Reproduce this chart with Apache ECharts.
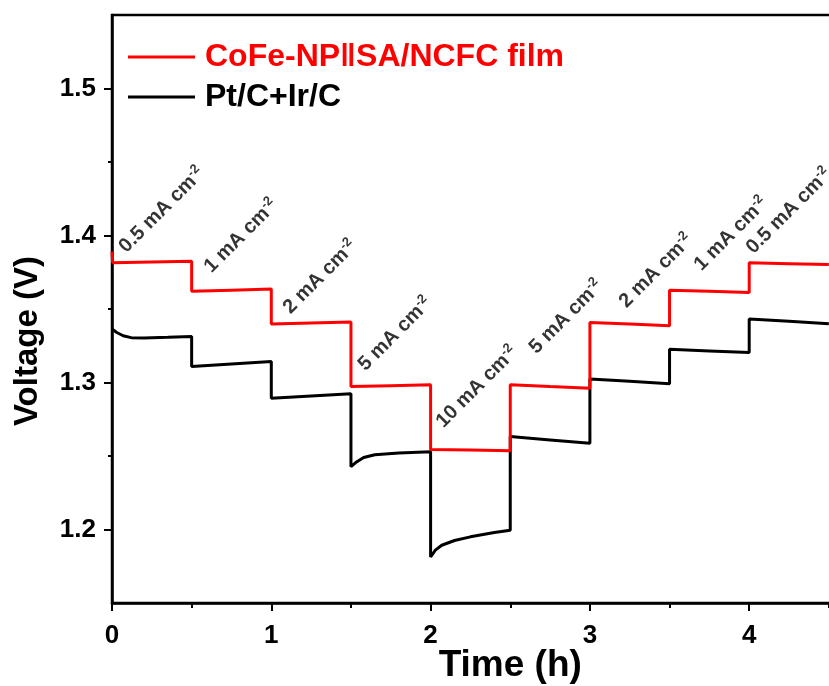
<!DOCTYPE html>
<html>
<head>
<meta charset="utf-8">
<script src="https://cdn.jsdelivr.net/npm/echarts@6/dist/echarts.min.js"></script>
<style>
  html, body { margin: 0; padding: 0; background: #ffffff; }
  #chart { width: 829px; height: 686px; }
</style>
</head>
<body>
<div id="chart"></div>
<script>
// Series names
const seriesNames = ['CoFe-NP\u2016SA/NCFC film', 'Pt/C+Ir/C'];

// CoFe-NP||SA/NCFC film: voltage (V) vs time (h), stepped current profile
const cofeTime = [0, 0.004, 0.25, 0.5, 0.5, 0.75, 1.0, 1.0, 1.25, 1.5, 1.5, 1.75, 2.0,
                  2.0, 2.25, 2.5, 2.5, 2.75, 3.0, 3.0, 3.25, 3.5, 3.5, 3.75, 4.0, 4.0, 4.25, 4.5];
const cofeVolt = [1.389, 1.3815, 1.3820, 1.3825, 1.3620, 1.3628, 1.3636, 1.3398, 1.3405, 1.3411,
                  1.2972, 1.2978, 1.2984, 1.2545, 1.2540, 1.2535, 1.2984, 1.2972, 1.2961,
                  1.3409, 1.3398, 1.3386, 1.3627, 1.3620, 1.3613, 1.3814, 1.3808, 1.3802];

// Pt/C+Ir/C reference
const ptTime = [0, 0.03, 0.07, 0.12, 0.2, 0.35, 0.5, 0.5, 0.75, 1.0, 1.0, 1.25, 1.5,
                1.5, 1.53, 1.58, 1.65, 1.8, 2.0, 2.0, 2.03, 2.07, 2.15, 2.25, 2.4, 2.5,
                2.5, 2.75, 3.0, 3.0, 3.25, 3.5, 3.5, 3.75, 4.0, 4.0, 4.25, 4.5];
const ptVolt = [1.3364, 1.3340, 1.3318, 1.3305, 1.3302, 1.3307, 1.3313, 1.3109, 1.3126, 1.3143,
                1.2893, 1.2908, 1.2923, 1.2427, 1.2455, 1.2490, 1.2508, 1.2520, 1.2529,
                1.1813, 1.1860, 1.1893, 1.1925, 1.1950, 1.1980, 1.1995, 1.2632, 1.2609, 1.2586,
                1.3024, 1.3008, 1.2992, 1.3226, 1.3215, 1.3204, 1.3432, 1.3416, 1.3400];

// Current density annotations (mA cm-2) and where they sit
const currentLabels = ['0.5', '1', '2', '5', '10', '5', '2', '1', '0.5'];
const labelTime = [0.119, 0.653, 1.149, 1.620, 2.109, 2.693, 3.258, 3.729, 4.055];
const labelVolt = [1.3847, 1.3710, 1.3432, 1.3044, 1.2656, 1.3160, 1.3473, 1.3724, 1.3840];

// Axis ticks
const xTicks = [0, 1, 2, 3, 4, 5];
const yMajorTicks = [1.2, 1.3, 1.4, 1.5];
const yMinorTicks = [1.25, 1.35, 1.45];

const FONT = '"Liberation Sans", Arial, Helvetica, sans-serif';

const zip = (xs, ys) => xs.map((x, i) => [x, ys[i]]);

const chart = echarts.init(document.getElementById('chart'), null, { renderer: 'canvas' });

chart.setOption({
  animation: false,
  backgroundColor: '#ffffff',
  grid: {
    left: 112, top: 15, width: 796.5, height: 588,
    outerBoundsMode: 'none', containLabel: false,
    show: true, borderColor: '#000000', borderWidth: 2.5, backgroundColor: 'transparent'
  },
  legend: {
    orient: 'vertical',
    left: 123, top: 36,
    icon: 'rect',
    itemWidth: 67, itemHeight: 3,
    itemGap: 8,
    textStyle: { fontFamily: FONT, fontWeight: 'bold', fontSize: 32, padding: [0, 0, 0, 5] },
    data: [
      { name: seriesNames[0], textStyle: { color: '#ff0000' } },
      { name: seriesNames[1], textStyle: { color: '#000000' } }
    ]
  },
  xAxis: {
    type: 'value',
    min: xTicks[0], max: xTicks[xTicks.length - 1], interval: 1,
    name: 'Time (h)', nameLocation: 'middle', nameGap: 44, nameMoveOverlap: false,
    nameTextStyle: { fontFamily: FONT, fontWeight: 'bold', fontSize: 37, color: '#000' },
    axisLine: { onZero: false, lineStyle: { color: '#000', width: 2.5 } },
    axisTick: { inside: false, length: 8, lineStyle: { color: '#000', width: 2 } },
    minorTick: { show: true, splitNumber: 2, length: 5, lineStyle: { color: '#000', width: 2 } },
    axisLabel: { fontFamily: FONT, fontWeight: 'bold', fontSize: 26, color: '#000', margin: 20 },
    splitLine: { show: false }
  },
  yAxis: [
    {
      type: 'value',
      min: 1.15, max: 1.55,
      name: 'Voltage (V)', nameLocation: 'middle', nameGap: 68,
      nameTextStyle: { fontFamily: FONT, fontWeight: 'bold', fontSize: 33, color: '#000', padding: [0, 64, 0, 0] },
      axisLine: { onZero: false, lineStyle: { color: '#000', width: 2.5 } },
      axisTick: { inside: false, length: 8, customValues: yMajorTicks, lineStyle: { color: '#000', width: 2 } },
      axisLabel: {
        customValues: yMajorTicks,
        formatter: v => v.toFixed(1),
        fontFamily: FONT, fontWeight: 'bold', fontSize: 26, color: '#000', margin: 16
      },
      splitLine: { show: false }
    },
    {
      type: 'value',
      position: 'left',
      min: 1.15, max: 1.55,
      axisLine: { show: false },
      axisTick: { inside: false, length: 4, customValues: yMinorTicks, lineStyle: { color: '#000', width: 2 } },
      axisLabel: { show: false },
      splitLine: { show: false }
    }
  ],
  series: [
    {
      name: seriesNames[0], type: 'line', data: zip(cofeTime, cofeVolt),
      showSymbol: false, symbol: 'none', color: '#ff0000',
      lineStyle: { color: '#ff0000', width: 3 }, z: 3
    },
    {
      name: seriesNames[1], type: 'line', data: zip(ptTime, ptVolt),
      showSymbol: false, symbol: 'none', color: '#000000',
      lineStyle: { color: '#000000', width: 3 }, z: 2
    },
    {
      name: 'current density', type: 'scatter',
      data: labelTime.map((t, i) => ({ value: [t, labelVolt[i]], text: currentLabels[i] })),
      symbolSize: 0, silent: true, z: 4,
      label: {
        show: true, position: [0, 0], align: 'left', verticalAlign: 'bottom', rotate: 45,
        formatter: p => '{a|' + p.data.text + ' mA cm}{s|-2}',
        rich: {
          a: { fontFamily: FONT, fontWeight: 'bold', fontSize: 20, color: '#000', lineHeight: 24 },
          s: { fontFamily: FONT, fontWeight: 'bold', fontSize: 13, color: '#000', verticalAlign: 'top', lineHeight: 13 }
        }
      }
    }
  ]
});
</script>
</body>
</html>
